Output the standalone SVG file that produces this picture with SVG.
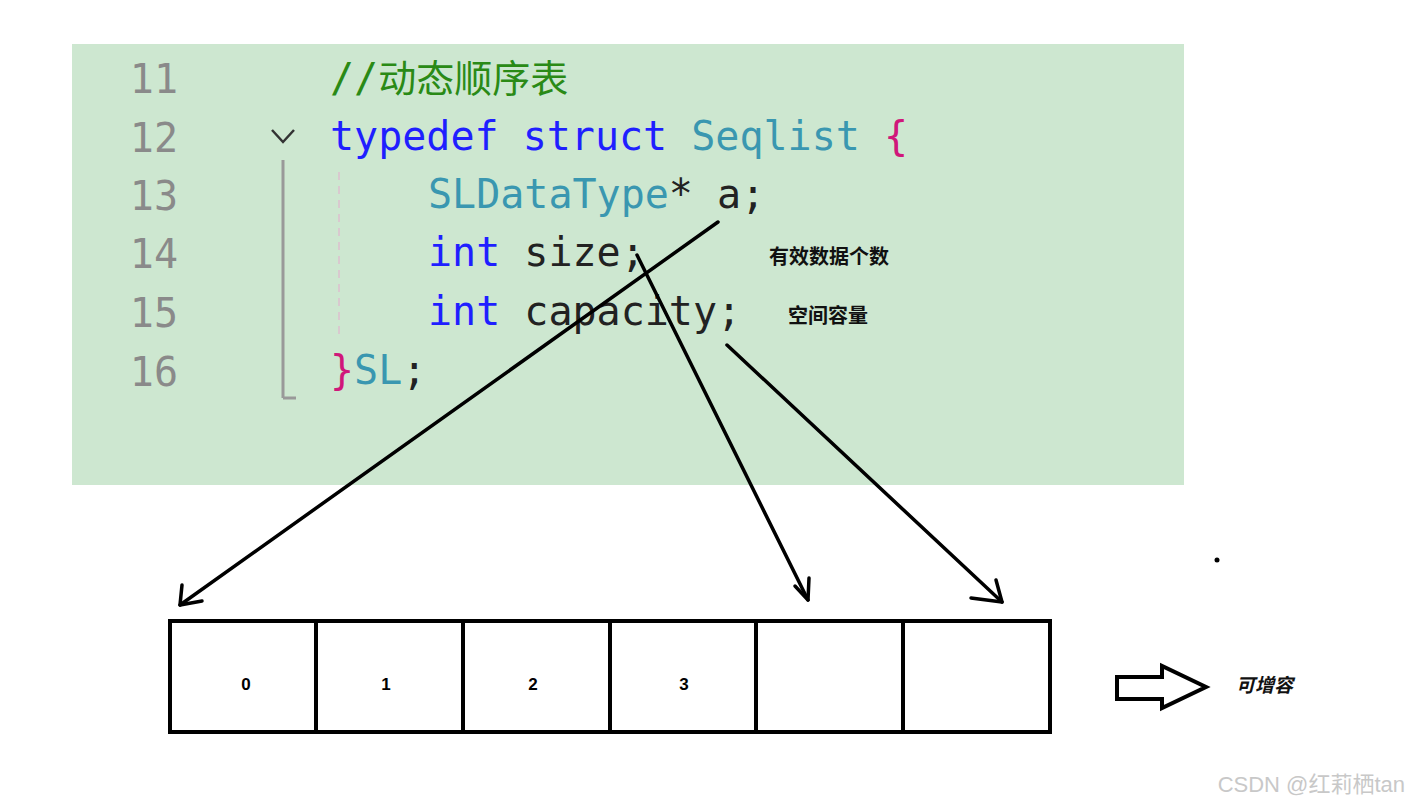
<svg xmlns="http://www.w3.org/2000/svg" width="1409" height="810" viewBox="0 0 1409 810">
<style>
.code{font-family:"DejaVu Sans Mono","Liberation Mono",monospace;font-size:40px}
.ln{fill:#8a8a8a;text-anchor:end}
.kw{fill:#1f1fff}.ty{fill:#3a97b0}.br{fill:#d0177a}.tx{fill:#222}.cm{fill:#2a8a16}
.lbl{font-family:"Liberation Sans","Noto Sans CJK SC",sans-serif;font-weight:bold;font-size:20px;fill:#111}
.num{font-family:"Liberation Sans",sans-serif;font-weight:bold;font-size:17px;text-anchor:middle}
.ar{fill:none;stroke:#000;stroke-width:3.5;stroke-linecap:round;stroke-linejoin:round}
</style>
<rect width="1409" height="810" fill="#fff"/>
<g id="code">
<rect x="72" y="44" width="1112" height="441" fill="#cde7d0"/>
<line x1="283" y1="160" x2="283" y2="398" stroke="#999" stroke-width="3"/>
<line x1="283" y1="398" x2="296" y2="398" stroke="#999" stroke-width="3"/>
<line x1="339" y1="172" x2="339" y2="334" stroke="#d9c9cf" stroke-width="2" stroke-dasharray="8,6"/>
<polyline points="272,130 283,142 294,130" fill="none" stroke="#333" stroke-width="2.5"/>
<text class="code ln" x="178" y="93">11</text>
<text class="code ln" x="178" y="152">12</text>
<text class="code ln" x="178" y="210">13</text>
<text class="code ln" x="178" y="268">14</text>
<text class="code ln" x="178" y="327">15</text>
<text class="code ln" x="178" y="386">16</text>
<text class="code cm" x="330" y="92">//<tspan font-family="'Noto Sans CJK SC',sans-serif" font-size="38">动态顺序表</tspan></text>
<text class="code" x="330" y="150" xml:space="preserve"><tspan class="kw">typedef struct </tspan><tspan class="ty">Seqlist </tspan><tspan class="br">{</tspan></text>
<text class="code" x="428" y="208" xml:space="preserve"><tspan class="ty">SLDataType</tspan><tspan class="tx">* a;</tspan></text>
<text class="code" x="428" y="266" xml:space="preserve"><tspan class="kw">int </tspan><tspan class="tx">size;</tspan></text>
<text class="code" x="428" y="325" xml:space="preserve"><tspan class="kw">int </tspan><tspan class="tx">capacity;</tspan></text>
<text class="code" x="330" y="384"><tspan class="br">}</tspan><tspan class="ty">SL</tspan><tspan class="tx">;</tspan></text>
</g>
<g id="labels">
<text class="lbl" x="769" y="264">有效数据个数</text>
<text class="lbl" x="788" y="323">空间容量</text>
</g>
<g id="connectors">
<line class="ar" x1="718" y1="222" x2="180" y2="605"/>
<polyline class="ar" points="182,585 180,605 202,601"/>
<line class="ar" x1="637" y1="255" x2="808" y2="600"/>
<polyline class="ar" points="795,586 808,600 809,578"/>
<line class="ar" x1="727" y1="345" x2="1002" y2="602"/>
<polyline class="ar" points="971,598 1002,602 996,580"/>
</g>
<g id="array" fill="none" stroke="#000" stroke-width="4">
<rect x="170" y="621" width="880" height="111"/>
<line x1="316" y1="621" x2="316" y2="732"/>
<line x1="463" y1="621" x2="463" y2="732"/>
<line x1="610" y1="621" x2="610" y2="732"/>
<line x1="756" y1="621" x2="756" y2="732"/>
<line x1="903" y1="621" x2="903" y2="732"/>
</g>
<g id="nums">
<text class="num" x="246" y="690">0</text>
<text class="num" x="386" y="690">1</text>
<text class="num" x="533" y="690">2</text>
<text class="num" x="684" y="690">3</text>
</g>
<g id="grow">
<polygon points="1117,677 1162,677 1162,666 1206,687 1162,708 1162,699 1117,699" fill="#fff" stroke="#000" stroke-width="4"/>
<text x="1236" y="692" font-family="'Liberation Sans','Noto Sans CJK SC',sans-serif" font-weight="bold" font-style="italic" font-size="19" fill="#111">可增容</text>
</g>
<circle cx="1217" cy="560" r="2.5" fill="#000"/>
<text x="1405" y="792" text-anchor="end" font-family="'Liberation Sans','Noto Sans CJK SC',sans-serif" font-size="22" fill="#c8c8c8">CSDN @红莉栖tan</text>
</svg>
